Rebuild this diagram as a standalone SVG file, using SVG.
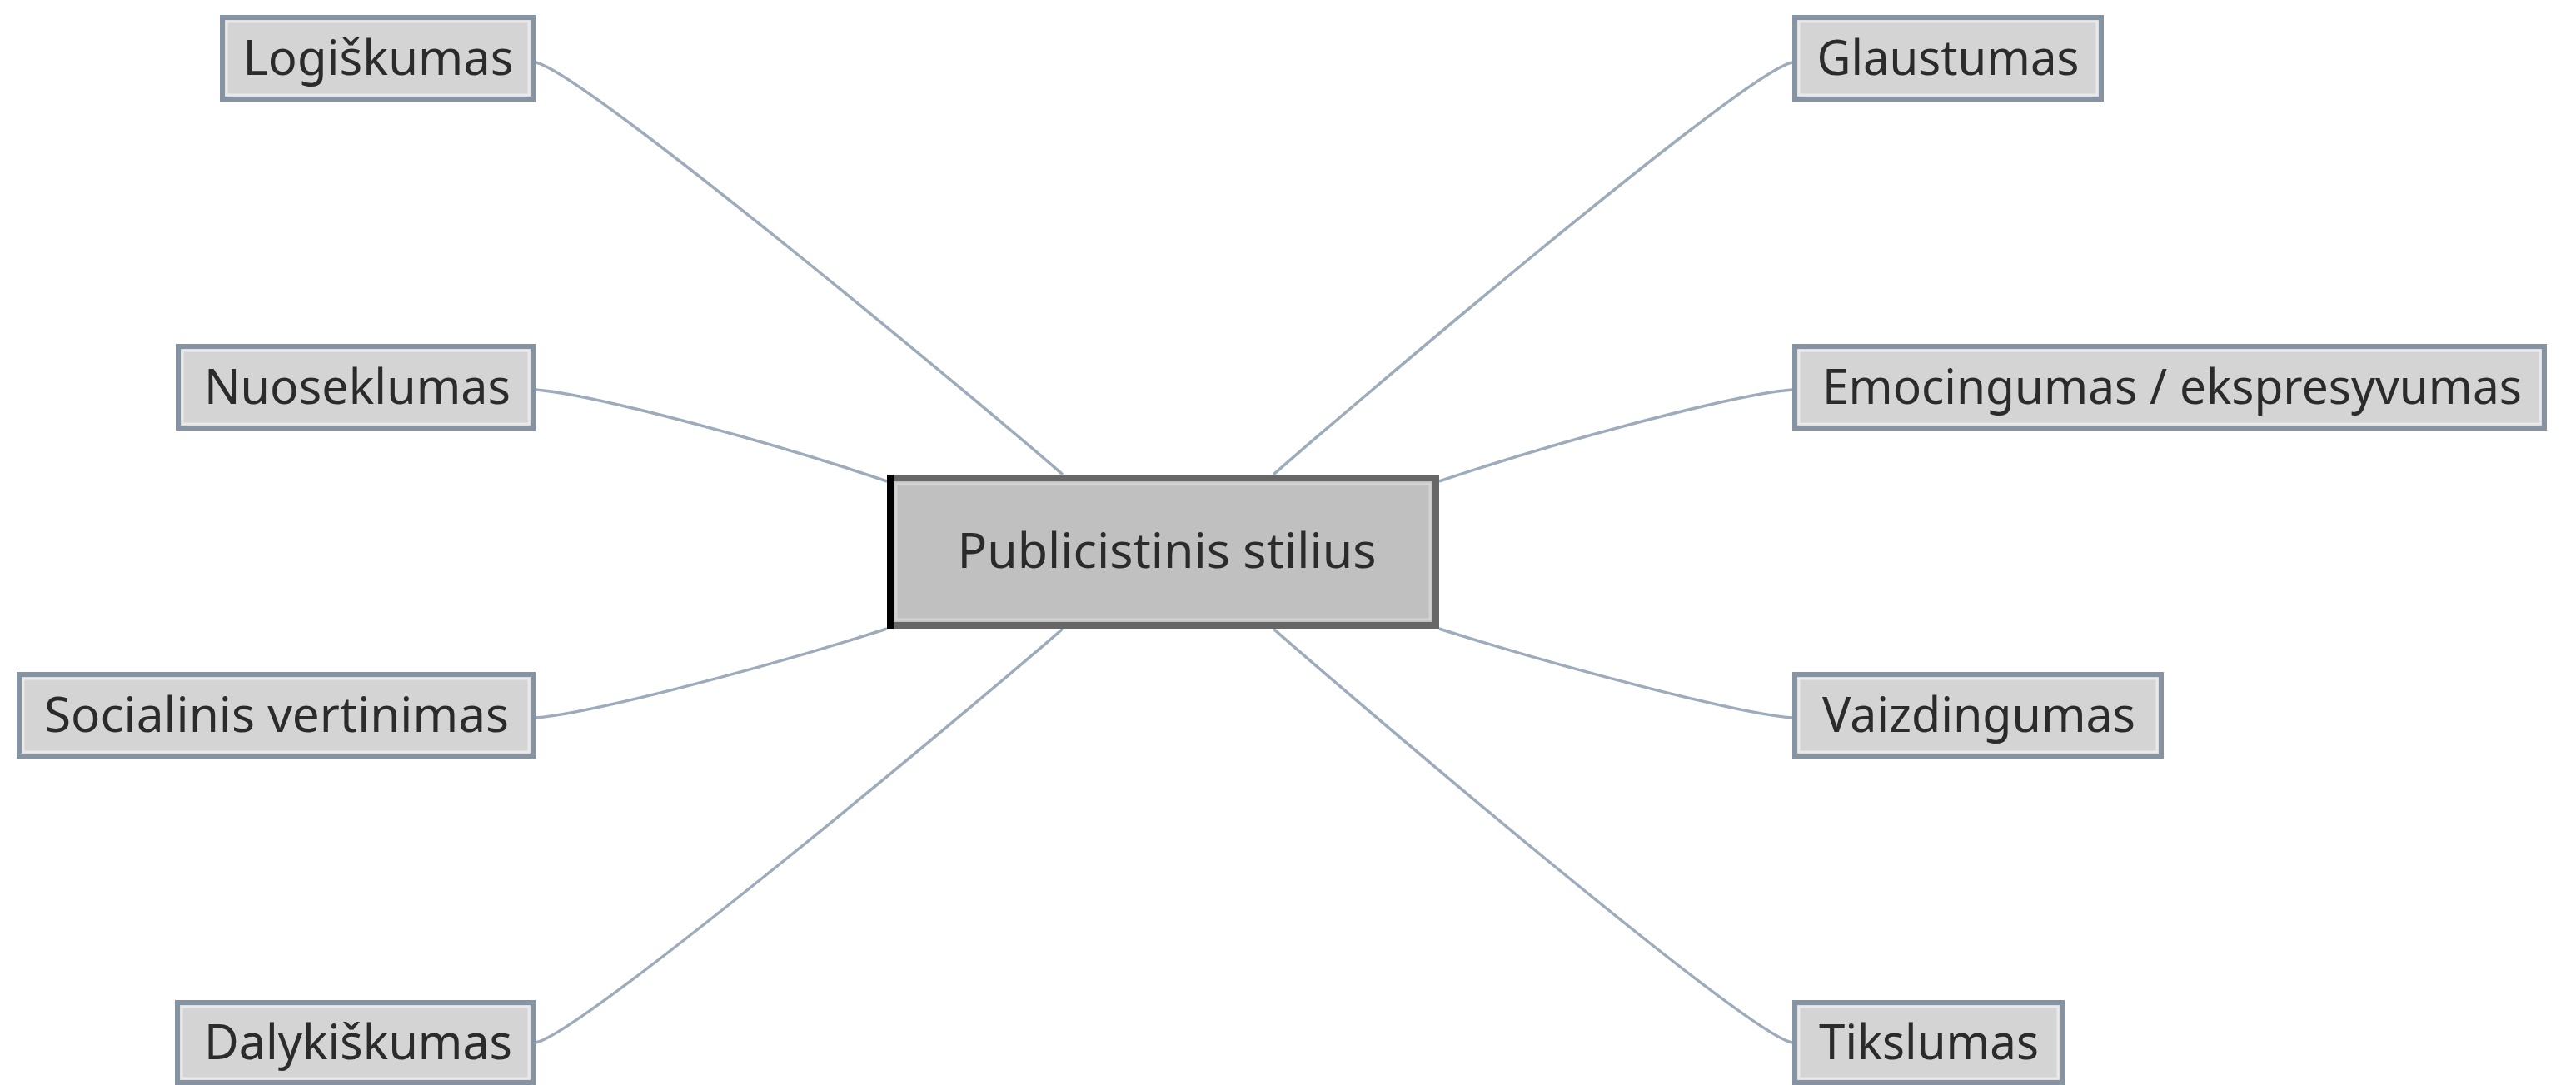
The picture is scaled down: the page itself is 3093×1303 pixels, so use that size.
<svg xmlns="http://www.w3.org/2000/svg" width="3093" height="1303" viewBox="0 0 3093 1303">
<style>
.bg{fill:#ffffff}
.edge{fill:none;stroke:#9dabbb;stroke-width:3.5}
.box{fill:#d4d4d4;stroke:#8693a3;stroke-width:6}
.inner{fill:none;stroke:#e9e9e9;stroke-width:3}
.main{fill:#c0c0c0;stroke:#676767;stroke-width:8}
.mainl{fill:none;stroke:#000;stroke-width:8}
.maininner{fill:none;stroke:#d2d2d2;stroke-width:3}
.lbl{font-family:"Noto Sans","Open Sans","Liberation Sans",sans-serif;font-size:58px;fill:#2b2b2b;text-anchor:middle}
</style>
<rect class="bg" x="0" y="0" width="3093" height="1303"/>
<g id="connectors">
<path class="edge" d="M643,75 C700,85 1220,520 1276,570"/>
<path class="edge" d="M643,468 C700,472 900,522 1065,578"/>
<path class="edge" d="M643,862 C700,858 900,808 1065,755"/>
<path class="edge" d="M643,1252 C700,1242 1220,805 1276,755"/>
<path class="edge" d="M2152,75 C2095,85 1585,520 1529,570"/>
<path class="edge" d="M2152,468 C2095,472 1895,522 1728,578"/>
<path class="edge" d="M2152,862 C2095,858 1895,808 1728,755"/>
<path class="edge" d="M2152,1252 C2095,1242 1585,805 1529,755"/>
</g>
<g id="center">
<rect class="main" x="1069" y="574" width="655" height="177"/>
<line class="mainl" x1="1069" y1="570" x2="1069" y2="755"/>
<rect class="maininner" x="1076" y="581" width="641" height="163"/>
<text class="lbl" x="1401" y="682" textLength="503" lengthAdjust="spacingAndGlyphs">Publicistinis stilius</text>
</g>
<g id="logiskumas">
<rect class="box" x="267" y="21" width="373" height="98"/>
<rect class="inner" x="272" y="26" width="363" height="88"/>
<text class="lbl" x="454" y="90" textLength="325" lengthAdjust="spacingAndGlyphs">Logiškumas</text>
</g>
<g id="nuoseklumas">
<rect class="box" x="214" y="416" width="426" height="98"/>
<rect class="inner" x="219" y="421" width="416" height="88"/>
<text class="lbl" x="429" y="485" textLength="368" lengthAdjust="spacingAndGlyphs">Nuoseklumas</text>
</g>
<g id="socialinis">
<rect class="box" x="23" y="810" width="617" height="98"/>
<rect class="inner" x="28" y="815" width="607" height="88"/>
<text class="lbl" x="332" y="879" textLength="558" lengthAdjust="spacingAndGlyphs">Socialinis vertinimas</text>
</g>
<g id="dalykiskumas">
<rect class="box" x="213" y="1204" width="427" height="96"/>
<rect class="inner" x="218" y="1209" width="417" height="86"/>
<text class="lbl" x="430" y="1272" textLength="370" lengthAdjust="spacingAndGlyphs">Dalykiškumas</text>
</g>
<g id="glaustumas">
<rect class="box" x="2155" y="21" width="368" height="98"/>
<rect class="inner" x="2160" y="26" width="358" height="88"/>
<text class="lbl" x="2339" y="90" textLength="315" lengthAdjust="spacingAndGlyphs">Glaustumas</text>
</g>
<g id="emocingumas">
<rect class="box" x="2155" y="416" width="900" height="98"/>
<rect class="inner" x="2160" y="421" width="890" height="88"/>
<text class="lbl" x="2608" y="485" textLength="840" lengthAdjust="spacingAndGlyphs">Emocingumas / ekspresyvumas</text>
</g>
<g id="vaizdingumas">
<rect class="box" x="2155" y="810" width="440" height="98"/>
<rect class="inner" x="2160" y="815" width="430" height="88"/>
<text class="lbl" x="2376" y="879" textLength="376" lengthAdjust="spacingAndGlyphs">Vaizdingumas</text>
</g>
<g id="tikslumas">
<rect class="box" x="2155" y="1204" width="321" height="96"/>
<rect class="inner" x="2160" y="1209" width="311" height="86"/>
<text class="lbl" x="2316" y="1272" textLength="264" lengthAdjust="spacingAndGlyphs">Tikslumas</text>
</g>
</svg>
